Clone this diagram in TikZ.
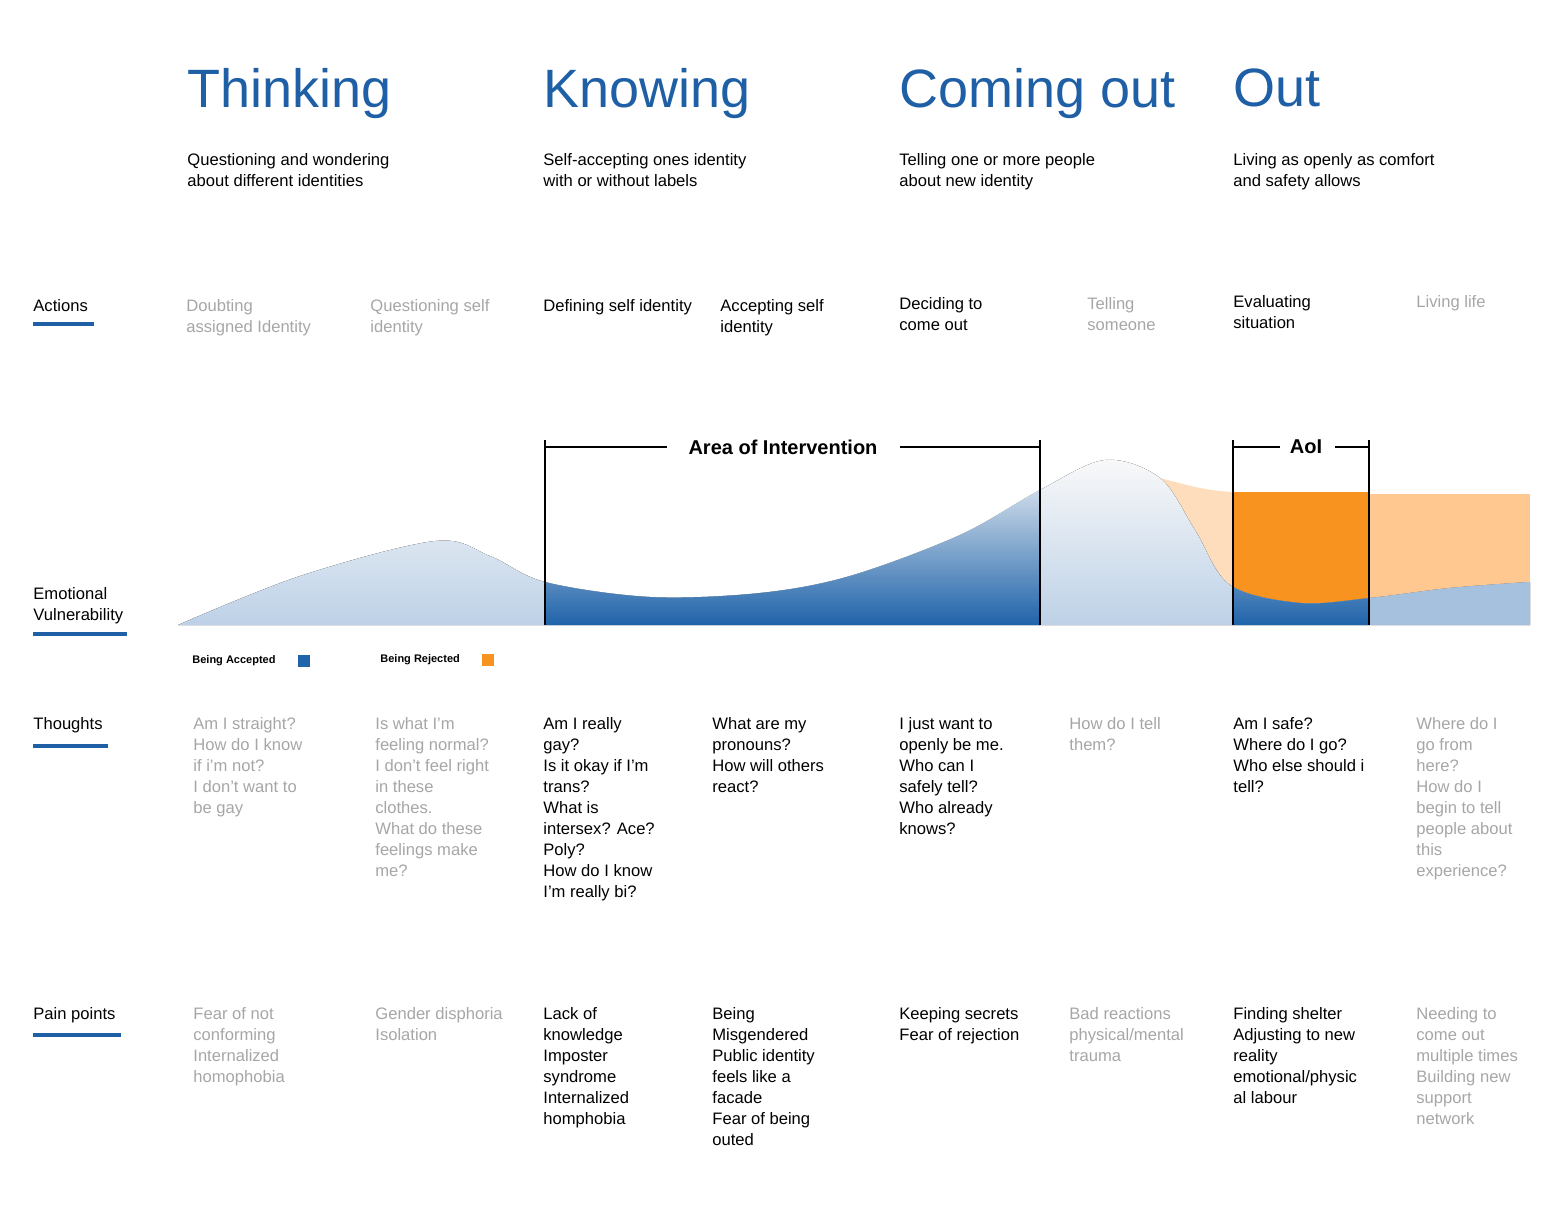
\documentclass[tikz,border=0pt]{standalone}
\usepackage{fontspec}
\setmainfont{Liberation Sans}
\usetikzlibrary{positioning}
\definecolor{titleblue}{HTML}{1F5FA6}
\definecolor{darkblue}{HTML}{1F63AA}
\definecolor{paleblue}{HTML}{BDD1E7}
\definecolor{midblue}{HTML}{8FB1D6}
\definecolor{lightgrey}{HTML}{A6A6A6}
\definecolor{paleorange}{HTML}{FDDDBB}
\definecolor{orange}{HTML}{F7931E}
\definecolor{softorange}{HTML}{FEC890}
\tikzset{
  txt/.style={anchor=north west, inner sep=0pt, align=left, font=\fontsize{8.3}{10.5}\selectfont},
  dim/.style={txt, text=lightgrey},
  title/.style={anchor=north west, inner sep=0pt, text=titleblue, font=\fontsize{27}{30}\selectfont},
  rowlabel/.style={anchor=north west, inner sep=0pt, font=\fontsize{8.3}{10.5}\selectfont, align=left},
  underline/.style={titleblue, line width=2pt},
  bracket/.style={line width=1.2pt},
  legend/.style={anchor=west, inner sep=0pt, font=\fontsize{5.5}{6}\selectfont\bfseries}
}
\newcommand{\bluecurve}{plot[smooth, tension=0.55] coordinates {(178,625) (300,576) (435,541) (490,556) (545,582) (650,597) (760,593) (850,576) (960,535) (1040,490) (1105,460) (1160,478) (1195,530) (1230,585) (1300,603) (1370,598) (1450,588) (1530,582)} -- (1530,625) -- cycle}
\begin{document}
\begin{tikzpicture}[x=0.5pt, y=-0.5pt]
  \useasboundingbox (0,0) rectangle (1560,1211);
  % Phase titles
  \node[title] (thinking) at (187,68) {Thinking};
  \node[title] (knowing) at (543,68) {Knowing};
  \node[title] (coming) at (899,68) {Coming out};
  \node[title] (out) at (1233,68) {Out};
  \node[txt] (thinkingdesc) at (187,153) {Questioning and wondering\\about different identities};
  \node[txt] (knowingdesc) at (543,153) {Self-accepting ones identity\\with or without labels};
  \node[txt] (comingdesc) at (899,153) {Telling one or more people\\about new identity};
  \node[txt] (outdesc) at (1233,153) {Living as openly as comfort\\and safety allows};

  % Row labels
  \node[rowlabel] (actions) at (33,299) {Actions};
  \draw[underline] (33,324) -- (94,324);
  \node[rowlabel] (emotion) at (33,587) {Emotional\\Vulnerability};
  \draw[underline] (33,634) -- (127,634);
  \node[rowlabel] (thoughts) at (33,717) {Thoughts};
  \draw[underline] (33,746) -- (108,746);
  \node[rowlabel] (pain) at (33,1007) {Pain points};
  \draw[underline] (33,1035) -- (121,1035);

  % Actions
  \node[dim] (act1) at (186,299) {Doubting\\assigned Identity};
  \node[dim] (act2) at (370,299) {Questioning self\\identity};
  \node[txt] (act3) at (543,299) {Defining self identity};
  \node[txt] (act4) at (720,299) {Accepting self\\identity};
  \node[txt] (act5) at (899,297) {Deciding to\\come out};
  \node[dim] (act6) at (1087,297) {Telling\\someone};
  \node[txt] (act7) at (1233,295) {Evaluating\\situation};
  \node[dim] (act8) at (1416,295) {Living life};

  % Emotional vulnerability chart
  \fill[paleorange] plot[smooth, tension=0.5] coordinates {(1160,478) (1200,488) (1233,492) (1300,494) (1369,494)} -- (1369,625) -- (1160,625) -- cycle;
  \fill[orange] (1233,492) rectangle (1369,625);
  \fill[softorange] (1369,494) rectangle (1530,625);
  \fill[top color=white!95!gray, bottom color=paleblue] (178,625) \bluecurve;
  \begin{scope}
    \clip (178,625) \bluecurve;
    \shade[top color=white!95!gray, bottom color=darkblue] (545,455) rectangle (1040,625);
    \shade[top color=white!95!gray, bottom color=darkblue] (1233,455) rectangle (1369,625);
    \fill[midblue!80] (1369,455) rectangle (1530,625);
  \end{scope}
  % Intervention brackets
  \node[font=\fontsize{10}{12}\selectfont\bfseries, inner sep=0pt] (area) at (783,447) {Area of Intervention};
  \draw[bracket] (545,440) -- (545,625);
  \draw[bracket] (1040,440) -- (1040,625);
  \draw[bracket] (545,447) -- (area.west -| 667,447);
  \draw[bracket] (900,447) -- (1040,447);
  \node[font=\fontsize{10}{12}\selectfont\bfseries, inner sep=0pt] (aoi) at (1306,447) {AoI};
  \draw[bracket] (1233,440) -- (1233,625);
  \draw[bracket] (1369,440) -- (1369,625);
  \draw[bracket] (1233,447) -- (1280,447);
  \draw[bracket] (1335,447) -- (1369,447);

  % Legend
  \node[legend] (accepted) at (192,661) {Being Accepted};
  \fill[darkblue] (298,655) rectangle (310,667);
  \node[legend] (rejected) at (380,660) {Being Rejected};
  \fill[orange] (482,654) rectangle (494,666);

  % Thoughts
  \node[dim] (th1) at (193,717) {Am I straight?\\How do I know\\if i'm not?\\I don't want to\\be gay};
  \node[dim] (th2) at (375,717) {Is what I'm\\feeling normal?\\I don't feel right\\in these\\clothes.\\What do these\\feelings make\\me?};
  \node[txt] (th3) at (543,717) {Am I really\\gay?\\Is it okay if I'm\\trans?\\What is\\intersex? Ace?\\Poly?\\How do I know\\I'm really bi?};
  \node[txt] (th4) at (712,717) {What are my\\pronouns?\\How will others\\react?};
  \node[txt] (th5) at (899,717) {I just want to\\openly be me.\\Who can I\\safely tell?\\Who already\\knows?};
  \node[dim] (th6) at (1069,717) {How do I tell\\them?};
  \node[txt] (th7) at (1233,717) {Am I safe?\\Where do I go?\\Who else should i\\tell?};
  \node[dim] (th8) at (1416,717) {Where do I\\go from\\here?\\How do I\\begin to tell\\people about\\this\\experience?};

  % Pain points
  \node[dim] (pp1) at (193,1007) {Fear of not\\conforming\\Internalized\\homophobia};
  \node[dim] (pp2) at (375,1007) {Gender disphoria\\Isolation};
  \node[txt] (pp3) at (543,1007) {Lack of\\knowledge\\Imposter\\syndrome\\Internalized\\homphobia};
  \node[txt] (pp4) at (712,1007) {Being\\Misgendered\\Public identity\\feels like a\\facade\\Fear of being\\outed};
  \node[txt] (pp5) at (899,1007) {Keeping secrets\\Fear of rejection};
  \node[dim] (pp6) at (1069,1007) {Bad reactions\\physical/mental\\trauma};
  \node[txt] (pp7) at (1233,1007) {Finding shelter\\Adjusting to new\\reality\\emotional/physic\\al labour};
  \node[dim] (pp8) at (1416,1007) {Needing to\\come out\\multiple times\\Building new\\support\\network};
\end{tikzpicture}
\end{document}
